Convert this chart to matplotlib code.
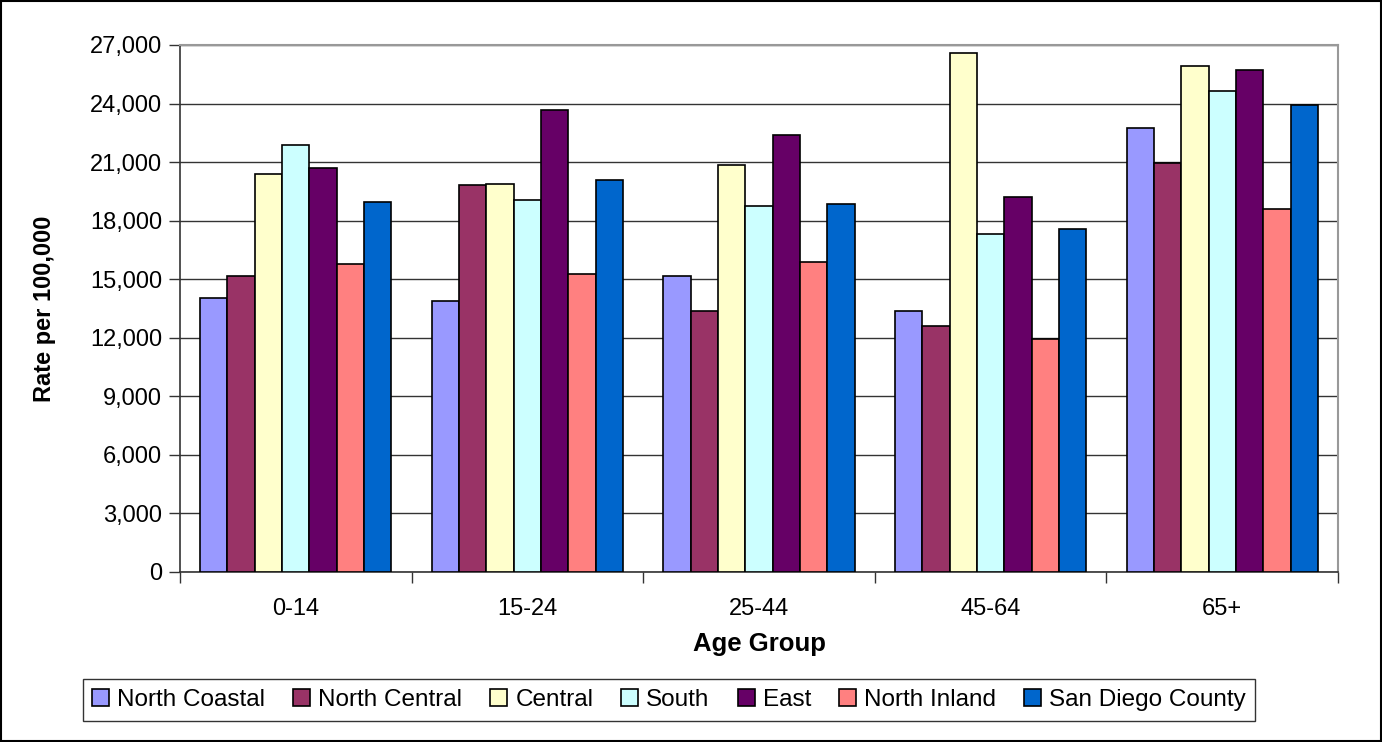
import matplotlib
matplotlib.use("Agg")
import matplotlib.pyplot as plt
import numpy as np
from matplotlib.ticker import FuncFormatter, MultipleLocator, FixedLocator
from matplotlib.patches import Rectangle

categories = ["0-14", "15-24", "25-44", "45-64", "65+"]
series_names = ["North Coastal", "North Central", "Central", "South", "East",
                "North Inland", "San Diego County"]
north_coastal = [14050, 13880, 15180, 13370, 22730]
north_central = [15170, 19830, 13390, 12620, 20940]
central = [20400, 19900, 20840, 26590, 25910]
south = [21870, 19050, 18770, 17330, 24630]
east = [20680, 23670, 22410, 19230, 25740]
north_inland = [15780, 15280, 15870, 11920, 18620]
san_diego = [18960, 20090, 18860, 17570, 23940]
values = [north_coastal, north_central, central, south, east, north_inland, san_diego]
colors = ["#9999FF", "#993366", "#FFFFCC", "#CCFFFF", "#660066", "#FF8080", "#0066CC"]

plt.rcParams['font.family'] = ['Liberation Sans', 'DejaVu Sans']

fig = plt.figure(figsize=(13.82, 7.42), dpi=100)
ax = fig.add_axes([180/1382, 1-572/742, (1338-180)/1382, (572-45)/742])

x = np.arange(len(categories))
w = 0.118
n = len(values)
for i, (vals, c, name) in enumerate(zip(values, colors, series_names)):
    ax.bar(x + (i - (n-1)/2) * w, vals, width=w, color=c, edgecolor="black",
           linewidth=1.2, label=name, zorder=3)

ax.set_xlim(-0.5, len(categories) - 0.5)
ax.set_ylim(0, 27000)
ax.yaxis.set_major_locator(MultipleLocator(3000))
ax.yaxis.set_major_formatter(FuncFormatter(lambda v, p: f"{int(v):,}"))
ax.grid(axis="y", color="#333333", linewidth=1.0, zorder=0)

ax.set_xticks(x)
ax.set_xticklabels(categories)
ax.xaxis.set_minor_locator(FixedLocator(np.arange(-0.5, len(categories), 1.0)))
ax.tick_params(axis="x", which="major", length=0, pad=19, labelsize=17)
ax.tick_params(axis="x", which="minor", length=8, width=1, color="#333333")
ax.tick_params(axis="y", length=8, width=1, pad=5, labelsize=17, color="#333333")

for s in ["left", "bottom"]:
    ax.spines[s].set_color("#333333")
    ax.spines[s].set_linewidth(1.2)
for s in ["top", "right"]:
    ax.spines[s].set_color("#999999")
    ax.spines[s].set_linewidth(1.5)

ax.set_xlabel("Age Group", fontsize=18.5, fontweight="bold", labelpad=8)
ax.set_ylabel("Rate per 100,000", fontsize=17, fontweight="bold", labelpad=24)

leg = fig.legend(loc="center", bbox_to_anchor=(669/1382, 1-700/742), ncol=7,
                 fontsize=17.5, frameon=True, fancybox=False, edgecolor="black",
                 handlelength=0.7, handleheight=0.7, handletextpad=0.33,
                 columnspacing=1.15, borderpad=0.4, borderaxespad=0)
leg.get_frame().set_linewidth(1.0)

fig.patches.append(Rectangle((0.001, 0.001), 0.998, 0.997, transform=fig.transFigure,
                             fill=False, edgecolor="black", linewidth=1.5))

fig.savefig("out.png", dpi=100)
